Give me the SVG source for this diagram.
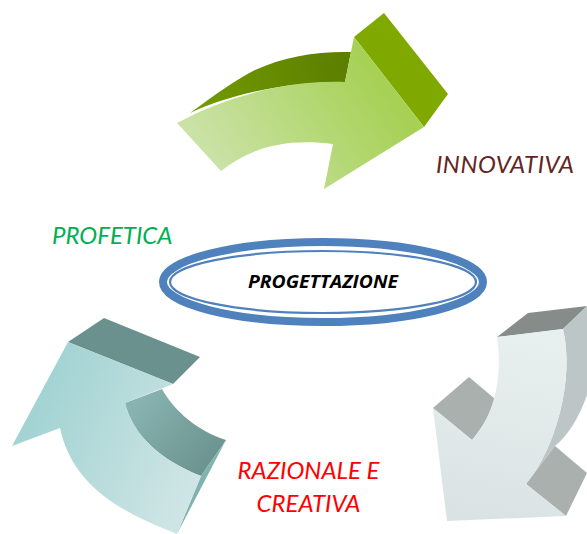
<svg xmlns="http://www.w3.org/2000/svg" width="587" height="534" viewBox="0 0 587 534">
<style>
.l{font-family:Lato,"Liberation Sans",sans-serif;font-style:italic;font-size:24px}
.m{text-anchor:middle}
</style>
<defs>
<linearGradient id="gf" gradientUnits="userSpaceOnUse" x1="195" y1="175" x2="365" y2="60"><stop offset="0" stop-color="#cfe4b0"/><stop offset="1" stop-color="#a6d155"/></linearGradient>
<linearGradient id="gd" gradientUnits="userSpaceOnUse" x1="200" y1="110" x2="345" y2="70"><stop offset="0" stop-color="#729a00"/><stop offset="1" stop-color="#5c7f00"/></linearGradient>
<linearGradient id="tf" gradientUnits="userSpaceOnUse" x1="40" y1="400" x2="200" y2="470"><stop offset="0" stop-color="#a3d3d3"/><stop offset="1" stop-color="#cfe5e5"/></linearGradient>
<linearGradient id="td" gradientUnits="userSpaceOnUse" x1="140" y1="400" x2="220" y2="470"><stop offset="0" stop-color="#88b3b0"/><stop offset="1" stop-color="#688f8c"/></linearGradient>
<linearGradient id="wf" gradientUnits="userSpaceOnUse" x1="530" y1="335" x2="490" y2="520"><stop offset="0" stop-color="#e8efef"/><stop offset="1" stop-color="#dae3e3"/></linearGradient>
</defs>
<g id="arrow-innovativa">
<path fill="url(#gd)" d="M190 113C215 95 235 80 255 70C285 56 320 51 351 52L345 82C290 82 235 92 190 113Z"/>
<path fill="#80a900" d="M354 37L384 13L448 94L424 127Z"/>
<path fill="url(#gf)" d="M177 123C225 97 285 80 345 82L354 37L424 127L324 189L333 144C285 138 250 148 221 171Z"/>
</g>
<g id="arrow-profetica">
<path fill="#6a918e" d="M68 342L104 318L200 357L173 384Z"/>
<path fill="url(#td)" d="M162 389C175 412 198 431 226 440L201 476C160 460 133 435 125 403Z"/>
<path fill="#82b2af" d="M226 440L201 476L177 534Z"/>
<path fill="url(#tf)" d="M68 342L173 384L125 403C133 435 160 460 201 476L177 534C120 512 72 485 60 428L12 446Z"/>
</g>
<g id="arrow-razionale">
<path fill="#868c8a" d="M497 337L528 313L587 306L563 329Z"/>
<path fill="#bcc6c6" d="M563 329L587 306V395C578 420 568 435 555 446L526 484C555 450 575 380 563 329Z"/>
<path fill="#a9b0ae" d="M433 408L469 377L495 399C490 415 482 428 472 440Z"/>
<path fill="#a9b0ae" d="M555 446L587 473L566 516L526 484Z"/>
<path fill="url(#wf)" d="M497 337L563 329C575 380 555 450 526 484L566 516L447 521L433 408L472 440C495 415 503 375 497 337Z"/>
</g>
<g id="node-progettazione">
<ellipse cx="323" cy="282" rx="160" ry="40" fill="#fff" stroke="#4f81bd" stroke-width="8"/>
<ellipse cx="323" cy="282" rx="153" ry="31" fill="#fff" stroke="#4f81bd" stroke-width="2.200"/>
<text x="248" y="288" font-family="'Open Sans','Liberation Sans',sans-serif" font-style="italic" font-weight="700" font-size="17.500" textLength="150" lengthAdjust="spacingAndGlyphs" fill="#000">PROGETTAZIONE</text>
</g>
<g id="labels">
<text class="l" x="436" y="173" textLength="138" fill="#632523">INNOVATIVA</text>
<text class="l" x="52" y="244" fill="#00b050">PROFETICA</text>
<text class="l m" x="308.500" y="479" fill="#ff0000">RAZIONALE E</text>
<text class="l m" x="308.500" y="512" fill="#ff0000">CREATIVA</text>
</g>
<g id="connectors"/>
</svg>
